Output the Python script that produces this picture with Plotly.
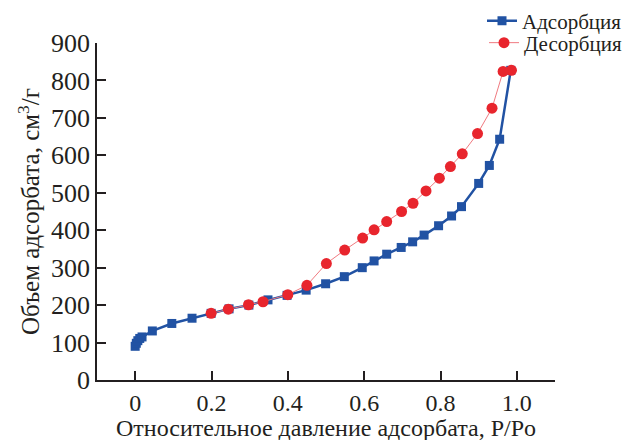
import plotly.graph_objects as go

ads_x = [0.0, 0.003, 0.007, 0.012, 0.018, 0.045, 0.096, 0.149, 0.199, 0.246, 0.298, 0.348, 0.398,
         0.448, 0.499, 0.548, 0.595, 0.626, 0.659, 0.697, 0.727, 0.757, 0.795, 0.829, 0.855,
         0.900, 0.928, 0.955, 0.984]
ads_y = [90, 98, 105, 111, 115, 131, 151, 165, 178, 190, 200, 214, 226,
         240, 257, 276, 300, 318, 336, 354, 369, 387, 412, 438, 463,
         525, 573, 643, 827]

des_x = [0.986, 0.964, 0.935, 0.897, 0.857, 0.826, 0.797, 0.762, 0.728, 0.698, 0.659, 0.626,
         0.596, 0.549, 0.501, 0.450, 0.400, 0.335, 0.297, 0.244, 0.199]
des_y = [827, 824, 726, 658, 604, 570, 539, 505, 472, 450, 423, 401,
         379, 347, 311, 253, 228, 209, 201, 189, 178]

x_ticks = [0, 0.2, 0.4, 0.6, 0.8, 1.0]
x_tick_labels = ["0", "0.2", "0.4", "0.6", "0.8", "1.0"]
y_ticks = [0, 100, 200, 300, 400, 500, 600, 700, 800, 900]

x_title = "Относительное давление адсорбата, P/Po"
y_title = "Объем адсорбата, см<sup>3</sup>/г"

FONT = "Liberation Serif"
INK = "#231f20"
BLUE = "#2152a3"
RED = "#e8252d"

fig = go.Figure()
fig.add_trace(go.Scatter(
    x=ads_x, y=ads_y, mode="lines+markers", name="Адсорбция",
    line=dict(color=BLUE, width=2.5),
    marker=dict(symbol="square", size=9, color=BLUE),
    legend="legend",
))
fig.add_trace(go.Scatter(
    x=des_x, y=des_y, mode="lines+markers", name="Десорбция",
    line=dict(color="#f07a80", width=1),
    marker=dict(symbol="circle", size=11, color=RED),
    legend="legend2",
))

leg_common = dict(
    xref="container", yref="container",
    x=1.0, xanchor="right", yanchor="middle",
    font=dict(size=21, family=FONT, color=INK),
    bgcolor="rgba(0,0,0,0)", itemwidth=30,
)

fig.update_layout(
    width=627, height=440,
    margin=dict(l=97, r=72, t=43, b=60, autoexpand=False),
    paper_bgcolor="white", plot_bgcolor="white",
    font=dict(family=FONT, color=INK),
    showlegend=True,
    legend=dict(y=1 - 21 / 440, **leg_common),
    legend2=dict(y=1 - 43 / 440, **leg_common),
    xaxis=dict(
        range=[-0.1, 1.1], tickvals=x_ticks, ticktext=x_tick_labels,
        showgrid=False, zeroline=False,
        showline=True, linecolor=INK, linewidth=1.5,
        ticks="inside", ticklen=9, tickwidth=1.5, tickcolor=INK,
        tickfont=dict(size=24, family=FONT, color=INK),
    ),
    yaxis=dict(
        range=[0, 900], tickvals=y_ticks,
        showgrid=False, zeroline=False,
        showline=True, linecolor=INK, linewidth=1.5,
        ticks="inside", ticklen=9, tickwidth=1.5, tickcolor=INK,
        tickfont=dict(size=26, family=FONT, color=INK),
        title=dict(text=y_title,
                   font=dict(size=25, family=FONT, color=INK), standoff=4),
    ),
    annotations=[dict(
        text=x_title, xref="paper", yref="paper",
        x=0.5, y=(380 - 428) / 337, xanchor="center", yanchor="middle",
        showarrow=False, font=dict(size=24, family=FONT, color=INK),
    )],
)

fig.write_html("out.html")
